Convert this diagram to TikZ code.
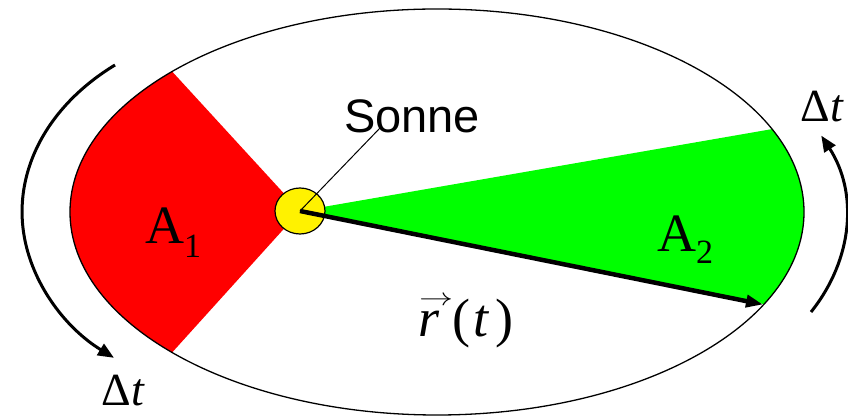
\documentclass[tikz,border=0pt]{standalone}
\usepackage{fontspec}
\usepackage{graphicx}
\setmainfont{Liberation Serif}
\newfontfamily\sonnefont{Liberation Sans}
\usetikzlibrary{arrows.meta,shapes.geometric}
\begin{document}
\begin{tikzpicture}[x=1pt,y=1pt,
  orbit/.style={line width=1.3pt},
  motion/.style={line width=3pt,-{Triangle[length=16pt,width=13pt]}},
  lbl/.style={anchor=base west,inner sep=0pt}]
\useasboundingbox (0,0) rectangle (848,417);
\coordinate (O) at (437,205);
\coordinate (S) at (300,206);
\coordinate (R1) at (172.1,345.5);
\coordinate (G1) at (772.0,287.9);
\coordinate (P2) at (763,112.5);
% sectors
\fill[red] (S) -- (R1) arc[start angle=136.2, end angle=223.8, x radius=367pt, y radius=203pt] -- cycle;
\fill[green] (S) -- (G1) arc[start angle=24.1, end angle=-27, x radius=367pt, y radius=203pt] -- cycle;
% orbit
\draw[orbit] (O) ellipse[x radius=367pt, y radius=203pt];
% sun
\node[ellipse, draw, fill=yellow, line width=1.2pt, minimum width=50pt, minimum height=46pt, inner sep=0pt] (sun) at (S) {};
% labels
\node[lbl] (sonne) at (344,284) {\sonnefont\fontsize{47}{50}\selectfont Sonne};
\coordinate (lead) at (380,289);
\draw[line width=1pt] (lead) -- (sun.center);
\draw[line width=4.5pt, -{Triangle[length=17pt,width=12pt]}] (sun.center) -- (P2);
\node[lbl] (a1) at (145,173) {\fontsize{54}{60}\selectfont A\raisebox{-14pt}{\fontsize{34}{40}\selectfont 1}};
\node[lbl] (a2) at (657,165) {\fontsize{54}{60}\selectfont A\raisebox{-12pt}{\fontsize{34}{40}\selectfont 2}};
\node[lbl] (rt) at (418,80) {\fontsize{54}{60}\selectfont\makebox[0pt][l]{\kern1pt\raisebox{31pt}{\resizebox{34pt}{9pt}{$\rightarrow$}}}\textit{r}\kern13pt(\kern3pt\textit{t}\kern6pt)};
% time arcs
\coordinate (L0) at (115,352);
\coordinate (Rr0) at (811,105);
\draw[motion] (L0) arc[start angle=128.7, end angle=231, x radius=248pt, y radius=188pt];
\draw[motion] (Rr0) arc[start angle=-31, end angle=26, x radius=246pt, y radius=185pt];
\node[lbl] (dt1) at (101,11) {\fontsize{46}{50}\selectfont Δ\kern1pt\textit{t}};
\node[lbl] (dt2) at (800,295) {\fontsize{46}{50}\selectfont Δ\kern1pt\textit{t}};
\end{tikzpicture}
\end{document}
